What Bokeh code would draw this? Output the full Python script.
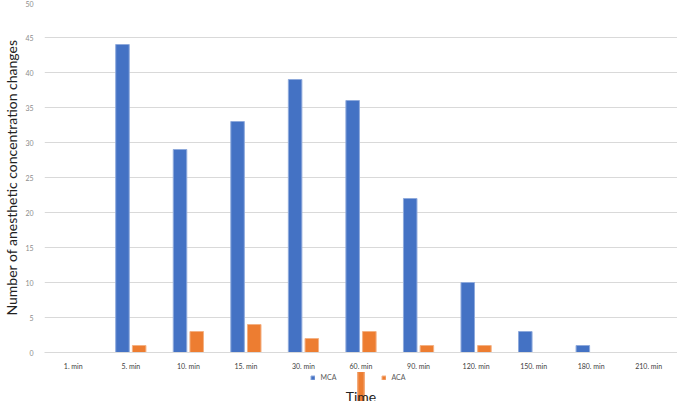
from bokeh.plotting import figure
from bokeh.layouts import column
from bokeh.models import (ColumnDataSource, FactorRange, Legend, LegendItem, Range1d,
                          FixedTicker, Label)
from bokeh.transform import dodge
from bokeh.embed import file_html
from bokeh.resources import INLINE

times = ["1. min", "5. min", "10. min", "15. min", "30. min", "60. min",
         "90. min", "120. min", "150. min", "180. min", "210. min"]
mca = [0, 44, 29, 33, 39, 36, 22, 10, 3, 1, 0]
aca = [0, 1, 3, 4, 2, 3, 1, 1, 0, 0, 0]
y_ticks = [0, 5, 10, 15, 20, 25, 30, 35, 40, 45, 50]

MCA_FILL, MCA_LINE = "#4472C4", "#8FAADC"
ACA_FILL, ACA_LINE = "#ED7D31", "#F4B183"
font = "Lato"

src = ColumnDataSource(dict(t=times, mca=mca, aca=aca))

p = figure(x_range=FactorRange(factors=times, range_padding=0),
           y_range=Range1d(0, 50),
           width=677, height=372, output_backend="svg", toolbar_location=None,
           min_border_left=32, min_border_right=0, min_border_top=2, min_border_bottom=0)
p.outline_line_color = None

p.vbar(x=dodge("t", -0.145, range=p.x_range), top="mca", width=0.235, source=src,
       fill_color=MCA_FILL, line_color=MCA_LINE, line_width=1)
p.vbar(x=dodge("t", 0.145, range=p.x_range), top="aca", width=0.235, source=src,
       fill_color=ACA_FILL, line_color=ACA_LINE, line_width=1)

ya = p.yaxis[0]
ya.ticker = FixedTicker(ticks=y_ticks)
p.ygrid.ticker = ya.ticker
ya.axis_line_color = None
ya.major_tick_line_color = None
ya.minor_tick_line_color = None
ya.major_label_text_font_size = "7px"
ya.major_label_text_color = "#8C8C8C"
ya.major_label_text_font = font
ya.major_label_standoff = 5
ya.axis_label = "Number of anesthetic concentration changes"
ya.axis_label_text_font = font
ya.axis_label_text_font_size = "14px"
ya.axis_label_text_font_style = "normal"
ya.axis_label_text_color = "#222222"
ya.axis_label_standoff = 2

xa = p.xaxis[0]
xa.axis_line_color = "#D9D9D9"
xa.major_tick_line_color = None
xa.minor_tick_line_color = None
xa.major_label_text_font_size = "7px"
xa.major_label_text_color = "#404040"
xa.major_label_text_font = font
xa.major_label_standoff = 3

p.xgrid.grid_line_color = None
p.ygrid.grid_line_color = "#D9D9D9"
p.ygrid.grid_line_width = 1

# legend + axis title strip
q = figure(width=677, height=29, output_backend="svg", toolbar_location=None,
           x_range=Range1d(0, 1), y_range=Range1d(1000, 1001),
           x_axis_type=None, y_axis_type=None,
           min_border_left=0, min_border_right=0, min_border_top=0, min_border_bottom=0)
q.outline_line_color = None
q.xgrid.grid_line_color = None
q.ygrid.grid_line_color = None
# legend proxies (same data, drawn outside the visible y-range of this strip)
d1 = q.vbar(x=0.5, top="mca", width=0.01, source=src, fill_color=MCA_FILL, line_color=MCA_LINE)
d2 = q.vbar(x=0.5, top="aca", width=0.01, source=src, fill_color=ACA_FILL, line_color=ACA_LINE)

legend = Legend(items=[LegendItem(label="MCA", renderers=[d1]),
                       LegendItem(label="ACA", renderers=[d2])],
                orientation="horizontal", location="top_center",
                label_text_font_size="7px", label_text_color="#595959", label_text_font=font,
                glyph_width=5, glyph_height=5, label_height=8, label_standoff=6,
                spacing=40, padding=0, margin=1, border_line_color=None,
                background_fill_alpha=0)
q.add_layout(legend)

q.add_layout(Label(x=0.5, y=0.17, x_units="data", y_units="data", text="Time",
                   y_range_name="default", anchor="center",
                   text_font=font, text_font_size="14px", text_color="#222222"))
q.y_range = Range1d(0, 1)
d1.glyph.bottom = 2
d2.glyph.bottom = 2

layout = column(p, q, spacing=0)
open("out.html", "w").write(file_html(layout, INLINE))
